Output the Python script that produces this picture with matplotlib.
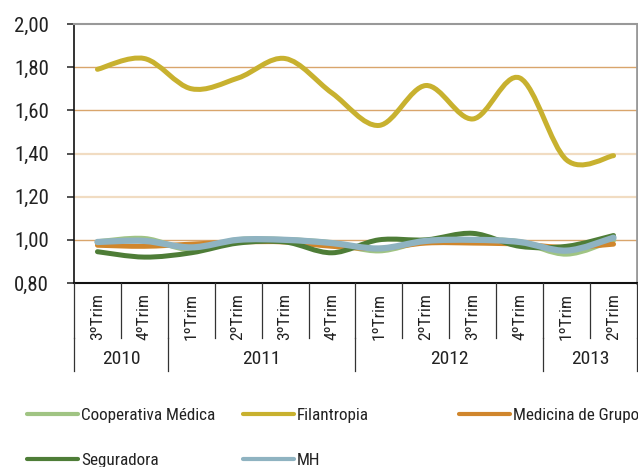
import matplotlib
matplotlib.use("Agg")
import matplotlib.pyplot as plt
from matplotlib.path import Path
from matplotlib.patches import PathPatch
from matplotlib.lines import Line2D
import matplotlib.transforms as mtransforms
import numpy as np

# ---------------- data ----------------
quarters = ["3ºTrim", "4ºTrim", "1ºTrim", "2ºTrim", "3ºTrim", "4ºTrim",
            "1ºTrim", "2ºTrim", "3ºTrim", "4ºTrim", "1ºTrim", "2ºTrim"]
years = ["2010", "2011", "2012", "2013"]
year_counts = [2, 4, 4, 2]

cooperativa = [0.99, 1.005, 0.955, 1.00, 1.00, 0.985, 0.95, 0.995, 1.00, 0.99, 0.935, 1.00]
filantropia = [1.79, 1.84, 1.70, 1.75, 1.84, 1.68, 1.53, 1.715, 1.56, 1.75, 1.37, 1.39]
medicina = [0.975, 0.97, 0.98, 0.99, 0.99, 0.97, 0.96, 0.985, 0.985, 0.98, 0.965, 0.98]
seguradora = [0.945, 0.92, 0.94, 0.985, 0.99, 0.94, 1.00, 1.00, 1.03, 0.97, 0.97, 1.02]
mh = [0.99, 0.995, 0.965, 1.00, 1.00, 0.985, 0.96, 0.995, 1.00, 0.99, 0.95, 1.01]

series_names = ["Cooperativa Médica", "Filantropia", "Medicina de Grupo", "Seguradora", "MH"]
series_values = [cooperativa, filantropia, medicina, seguradora, mh]
series_colors = ["#a0c483", "#c8b12f", "#d0862c", "#4e7d37", "#8fb3c1"]
series_widths = [4.0, 3.6, 3.6, 3.6, 4.5]

plt.rcParams["font.family"] = ["Roboto Condensed", "DejaVu Sans"]

W, H = 638, 467
fig = plt.figure(figsize=(W / 100, H / 100), dpi=100)
ax = fig.add_axes([74 / W, 1 - 283 / H, (637 - 74) / W, (283 - 24) / H])

ax.set_xlim(-0.5, len(quarters) - 0.5)
ax.set_ylim(0.8, 2.0)


def smooth_path(xs, ys):
    pts = np.column_stack([xs, ys]).astype(float)
    n = len(pts)
    verts = [pts[0]]
    codes = [Path.MOVETO]
    for i in range(n - 1):
        p0 = pts[i - 1] if i > 0 else pts[i]
        p1 = pts[i]
        p2 = pts[i + 1]
        p3 = pts[i + 2] if i + 2 < n else pts[i + 1]
        c1 = p1 + (p2 - p0) / 6.0
        c2 = p2 - (p3 - p1) / 6.0
        verts += [c1, c2, p2]
        codes += [Path.CURVE4] * 3
    return Path(verts, codes)


x = np.arange(len(quarters))
handles = []
for name, vals, col, lw in zip(series_names, series_values, series_colors, series_widths):
    patch = PathPatch(smooth_path(x, vals), facecolor="none", edgecolor=col,
                      lw=lw, capstyle="round", joinstyle="round", zorder=3)
    ax.add_patch(patch)
    handles.append(Line2D([], [], color=col, lw=3.0, solid_capstyle="round", label=name))

# y axis & grid lines
yt = [0.8, 1.0, 1.2, 1.4, 1.6, 1.8, 2.0]
ax.set_yticks(yt)
ax.set_yticklabels([f"{v:.2f}".replace(".", ",") for v in yt], fontsize=15, color="#222222")
ax.tick_params(axis="y", length=5, width=1.2, color="#333333", pad=13)
for v in yt[1:-1]:
    if v in (1.2, 1.4):
        ax.axhline(v, color="#f1dcc2", lw=1.6, zorder=1)
    else:
        ax.axhline(v, color="#d9a56c", lw=1.0, zorder=1)

# spines
ax.spines["left"].set_color("#111111")
ax.spines["left"].set_linewidth(1.2)
ax.spines["bottom"].set_color("#111111")
ax.spines["bottom"].set_linewidth(1.5)
ax.spines["top"].set_color("#999999")
ax.spines["top"].set_linewidth(1.5)
ax.spines["right"].set_color("#999999")
ax.spines["right"].set_linewidth(2.0)

# multi-level x axis
ax.set_xticks(x)
ax.set_xticklabels(quarters, rotation=90, fontsize=12.5, color="#222222", va="top")
ax.tick_params(axis="x", length=0, pad=7)

trans = mtransforms.blended_transform_factory(ax.transData, ax.transAxes)
ph = 283 - 24
q_bottom = -(338 - 283) / ph
y_bottom = -(371 - 283) / ph
for b in np.arange(len(quarters) + 1) - 0.5:
    ax.plot([b, b], [0, q_bottom], transform=trans, color="#333333", lw=0.9,
            clip_on=False, zorder=4)
start = -0.5
for yr, cnt in zip(years, year_counts):
    end = start + cnt
    ax.plot([start, start], [q_bottom, y_bottom], transform=trans, color="#333333",
            lw=0.9, clip_on=False)
    ax.text((start + end) / 2, -(359 - 283) / ph, yr, transform=trans, ha="center",
            va="center", fontsize=14, color="#222222")
    start = end
ax.plot([start, start], [q_bottom, y_bottom], transform=trans, color="#333333",
        lw=0.9, clip_on=False)

# legends
leg_kw = dict(frameon=False, fontsize=12.3, handlelength=3.0, handletextpad=0.15,
              labelspacing=1.75, borderaxespad=0, borderpad=0, loc="upper left")
groups = [([0, 3], 27), ([1, 4], 243), ([2], 459)]
for idx, xpx in groups:
    lg = fig.legend(handles=[handles[i] for i in idx], bbox_to_anchor=(xpx / W, 1 - 408 / H),
                    **leg_kw)
    for t in lg.get_texts():
        t.set_color("#222222")

fig.savefig("out.png", dpi=100)
